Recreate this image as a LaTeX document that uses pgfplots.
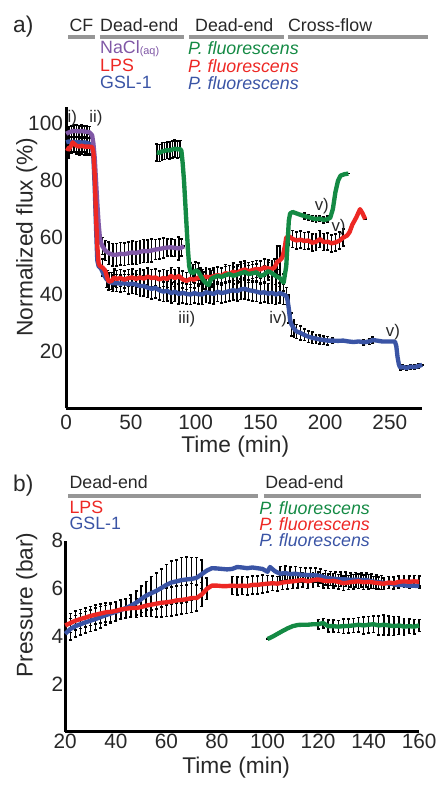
\documentclass[border=0pt]{standalone}
\usepackage{fontspec}
\setmainfont{Liberation Sans}
\usepackage{pgfplots}
\usepackage{pgfplotstable}
\pgfplotsset{compat=1.18}

\definecolor{cpur}{RGB}{128,88,166}
\definecolor{cred}{RGB}{237,40,36}
\definecolor{cblu}{RGB}{58,84,165}
\definecolor{cgrn}{RGB}{20,138,68}
\definecolor{cbar}{RGB}{150,150,150}
\definecolor{txt}{RGB}{40,40,40}

% a) normalized flux: x = time (min), y = flux (%), e = error half-width
\pgfplotstableread{
x y e
0 96.5 2
2 97 2
4 97.3 2
6 97.5 2
8 97.5 2
10 97.3 2
12 97.5 2
14 97.3 2
16 97.2 2
18 97 2
20 96 0
21 93 0
22 88 0
23 80 0
24 72 0
25 65 0
26 60 0
27 58 0
28 57 3
30 55.5 3.5
33 54.5 4
36 54 4
39 54 4
42 54.3 4
45 54.2 4
48 54.5 4
51 54.8 4
54 54.6 4
57 55 4
60 55.3 4
63 55.2 4
66 55.5 4
69 55.8 3.5
72 56 3.5
75 56.3 3.5
78 56.5 3
81 56.6 3
84 56.4 3
87 56.2 4
89 56.5 3
91 57 0
}\naclA

\pgfplotstableread{
x y e
0 93.5 3.5
2 93.8 3.5
4 93.5 3.5
6 93.7 3.5
8 93.5 3.5
10 93.6 3.5
12 93.4 3.5
14 93.5 3.5
16 93.3 3.5
18 93 3.5
20 92 0
21 88 0
22 78 0
23 64 0
24 52 0
25 50 0
27 49 0
29 47 0
31 45.5 3
33 44.5 3
36 44 3
39 44 3
42 43.8 3
45 44 3
48 43.6 3.5
51 43.8 3.5
54 43.5 3.5
57 43 3.5
60 43 3.5
63 42.4 3.5
66 42 3.5
69 42.3 3.5
72 41.5 3.5
75 41 3.5
78 41.3 3.5
81 40.5 3.5
84 41 3.5
87 40.2 3.5
90 40.6 3.5
93 40.2 3.5
96 40 3.5
99 40.5 3.5
102 40.1 3.5
105 40 3.5
108 40.8 3.5
111 40.5 3.5
114 40.2 3.5
117 41 3.5
120 40.5 3.5
123 40.8 3.5
126 41.2 3.5
129 41.5 3.5
132 41.2 3.5
135 41.8 3.5
138 42 3.5
141 41.5 3.5
144 41.3 3.5
147 41 3.5
150 40.6 3.5
153 40.8 3.5
156 40.3 3.5
159 40.6 3.5
162 40 3.5
165 40.5 3.5
168 40 3.5
170 39.5 3
171 38 0
172 35 5
173 31 0
174 29.5 4
176 28 3
178 27 2.5
181 26.5 2.5
184 25.8 2
187 25.2 2
190 24.8 2
193 24.5 1.5
196 24.2 1.5
199 24 1.5
202 23.8 1.5
206 23.8 1
210 23.7 0
214 23.8 0
218 23.5 0
222 23.3 0
226 23.5 0
230 23.2 1
234 23.5 1
237 24 1
240 23.8 0
244 23.5 0
248 23.5 0
252 23.5 0
254 23.4 0
255 22 0
256 18 0
257 15.5 0
258 14.3 0.8
260 14.5 0.8
263 14.2 0.8
266 14.6 0.8
269 14.5 0.8
272 14.8 0.8
275 15.3 0
}\gslA

\pgfplotstableread{
x y e
0 91.5 3
2 91 3
4 92.5 3
5 93.5 0
6 93 3
8 92.3 3
10 92 3
12 92.3 3
14 92 3
16 92 3
18 92 3
20 91.8 0
21 90 0
22 82 0
23 68 0
24 57 0
25 51 0
26 50 0
28 49.5 3
30 48.5 0
31 47 0
32 45.5 3
33 44.5 0
35 44.8 3
37 46 3
39 45.5 3
42 45.8 3
45 45.2 3
48 45.8 3
51 46 3
54 45.5 3
57 46 3
60 45.6 3
63 46.3 3
66 45.8 3
69 46 3
72 45.3 3
75 45.8 3
78 45.5 3
81 46.5 3
84 45.8 3
87 46.5 3
90 45.3 3
93 44.8 3
96 45.5 3
99 45.2 3
102 46 3
105 45.8 3
108 46.3 3
111 46 3
114 46.5 3
117 46.8 3
120 46.5 3
123 47.5 3
126 47.2 3
129 48 3
132 47.6 3
135 48.4 3
138 48.8 3
141 48.2 3
144 48.6 3
147 49 3
150 48.8 3
153 49.5 3
156 49.2 3
159 49 3
161 49.5 3
163 51.5 5.5
165 52 5
167 53 0
169 57 0
170 60 0
172 60.5 3
175 59.5 3
178 59 3
181 59.3 3
184 58.8 3
187 59 3
190 58.2 3
193 58.5 3
196 59.5 3
199 58.4 3
202 58.6 3
205 58 3
208 58.3 3
211 58.9 3
214 60 3
217 60.7 0
219 62 0
221 64.5 0
224 67 0
227 70 0
229 68.5 0
231 66.5 0
}\lpsA

\pgfplotstableread{
x y e
70 90 3
72 89.8 3
74 90.3 3
76 90.5 3
78 90.8 3
80 90.6 3
82 91 3
84 91.3 3
86 91 3
88 91.2 3
89 90.5 0
90 86 0
91 80 0
92 72 0
93 64 0
94 56 0
95 50 0
96 48 3
98 47.5 3
100 48.5 3
102 48 3
104 46.5 3
106 45 3
108 44 3
110 43.3 3
112 45.5 3
114 46 3
117 46.5 3
120 46.2 3
123 46.8 3
126 47.2 3
129 46.6 3
132 47 3
135 47.5 3
138 47.9 3
141 47.2 3
144 47.5 3
147 47.8 3
150 46.5 3
153 47 3
156 48.2 3
159 47.5 3
162 46.5 3
165 45.8 3
168 44.2 3
170 50 0
171 58 0
172 66 0
173 68.5 0
175 69 0
178 68.5 0
181 68 0
184 67.6 1
187 67.2 1
190 66.8 1
193 66.5 1
196 66.7 1
199 66.2 1
202 66.5 1
204 67 0
206 70 0
208 76 0
210 80 0
212 81.8 0
215 82.3 0
218 82.5 0
}\pfA

% b) pressure: x = time (min), y = pressure (bar), e = error half-width
\pgfplotstableread{
x y e
20 4.1 0.4
22 4.3 0.45
24 4.42 0.45
26 4.5 0.45
28 4.58 0.45
30 4.65 0.45
32 4.72 0.45
34 4.8 0.45
36 4.88 0.4
38 4.95 0.4
40 5.02 0.4
42 5.1 0.4
44 5.18 0.4
46 5.28 0.45
48 5.4 0.5
50 5.55 0.55
52 5.7 0.6
54 5.8 0.7
56 5.9 0.75
58 6.02 0.8
60 6.15 0.85
62 6.25 0.9
64 6.3 0.9
66 6.35 0.95
68 6.38 0.95
70 6.4 0.9
72 6.45 0.85
74 6.6 0.6
76 6.75 0
78 6.85 0
80 6.84 0
82 6.82 0
84 6.8 0
86 6.82 0
88 6.9 0
90 6.88 0
92 6.85 0
94 6.88 0
96 6.85 0
98 6.82 0
100 6.7 0
101 6.9 0
103 6.72 0
105 6.62 0.3
107 6.65 0.3
109 6.6 0.3
111 6.62 0.3
113 6.58 0.3
115 6.57 0.3
117 6.56 0.3
119 6.55 0.3
121 6.52 0.3
123 6.45 0.3
125 6.42 0.3
127 6.4 0.3
129 6.38 0.3
131 6.38 0.3
133 6.36 0.3
135 6.37 0.3
137 6.35 0.3
139 6.36 0.3
141 6.3 0.3
143 6.27 0.3
145 6.25 0.3
147 6.22 0
149 6.2 0
151 6.15 0
153 6.15 0
155 6.12 0
157 6.12 0
160 6.1 0
}\gslB

\pgfplotstableread{
x y e
20 4.45 0.4
22 4.55 0.4
24 4.65 0.4
26 4.72 0.4
28 4.78 0.4
30 4.85 0.4
32 4.9 0.4
34 4.95 0.4
36 5.0 0.4
38 5.02 0.4
40 5.06 0.4
42 5.12 0.4
44 5.15 0.4
46 5.18 0.4
48 5.18 0.4
50 5.22 0.4
52 5.28 0.45
54 5.32 0.5
56 5.36 0.55
58 5.4 0.6
60 5.42 0.6
62 5.45 0.6
64 5.5 0.6
66 5.52 0.6
68 5.55 0.6
70 5.6 0.6
72 5.6 0.55
74 5.75 0.5
76 5.98 0.45
78 6.12 0
80 6.12 0
82 6.1 0
84 6.1 0
86 6.12 0.38
88 6.1 0.38
90 6.12 0.38
92 6.1 0.38
94 6.15 0.38
96 6.15 0.38
98 6.18 0.38
100 6.2 0.35
102 6.22 0.3
104 6.2 0.3
106 6.25 0.3
108 6.28 0.3
110 6.3 0.3
112 6.33 0.3
114 6.35 0.3
116 6.3 0.3
118 6.35 0.3
120 6.38 0.3
122 6.33 0.3
124 6.3 0.3
126 6.32 0.3
128 6.28 0.3
130 6.22 0.3
132 6.25 0.3
134 6.28 0.3
136 6.3 0.3
138 6.26 0.3
140 6.28 0.3
142 6.25 0.25
144 6.22 0.25
146 6.2 0.25
148 6.25 0.25
150 6.22 0.25
152 6.28 0.25
154 6.3 0.25
156 6.28 0.25
158 6.3 0.25
160 6.28 0.25
}\lpsB

\pgfplotstableread{
x y e
100 3.88 0
102 3.98 0
104 4.1 0
106 4.22 0
108 4.33 0
110 4.42 0
112 4.47 0
114 4.48 0
116 4.48 0
118 4.5 0
120 4.5 0.2
122 4.55 0.2
124 4.42 0.25
126 4.42 0.25
128 4.4 0.25
130 4.42 0.3
132 4.43 0.3
134 4.45 0.3
136 4.48 0.3
138 4.45 0.35
140 4.48 0.35
142 4.5 0.35
144 4.45 0.4
146 4.48 0.42
148 4.45 0.4
150 4.42 0.4
152 4.45 0.38
154 4.4 0.35
156 4.42 0.3
158 4.4 0.3
160 4.45 0.25
}\pfB

\pgfplotsset{
  panel/.style={
    scale only axis,
    axis lines*=left,
    axis line style={line width=1.4pt, black, -},
    major tick length=0pt,
    tick label style={font=\fontsize{10.5}{12}\selectfont, text=txt},
    label style={font=\fontsize{11.5}{13}\selectfont, text=txt},
    /pgf/number format/assume math mode=true,
    clip=false,
  },
  ebar/.style={
    draw=none, mark=none, forget plot,
    error bars/y dir=both,
    error bars/y explicit,
    error bars/error mark=|,
    error bars/error bar style={draw=black, solid, line width=0.75pt},
    error bars/error mark options={draw=black, solid, line width=0.8pt, mark size=0.75pt},
  },
  curve/.style={line width=2.2pt, mark=none, line join=round},
}

\begin{document}
\begin{tikzpicture}
% overlay coordinates: 1 unit = 1 pixel of the 435x785 frame, y downwards
\begin{scope}[x=0.5pt, y=-0.5pt]
\useasboundingbox (0,0) rectangle (435,785);

% a) headers
\begin{scope}[every node/.style={inner sep=0pt, anchor=base west, text=txt, font=\fontsize{9}{10}\selectfont}]
\node[font=\fontsize{11.5}{13}\selectfont] at (13,33) {a)};
\node at (70,32) {CF};
\node at (101,32) {Dead-end};
\node at (197,32) {Dead-end};
\node at (291,32) {Cross-flow};
\node[text=cpur] at (101,54) {NaCl\raisebox{-0.8pt}{\fontsize{5.5}{6}\selectfont(aq)}};
\node[text=cred] at (101,72) {LPS};
\node[text=cblu] at (101,90) {GSL-1};
\node[text=cgrn] at (190,55) {\itshape P. fluorescens};
\node[text=cred] at (190,73) {\itshape P. fluorescens};
\node[text=cblu] at (190,91) {\itshape P. fluorescens};
\end{scope}
\draw[cbar, line width=2pt] (69,37) -- (96,37) (101,37) -- (186,37) (191,37) -- (287,37) (291,37) -- (433,37);

% b) headers
\begin{scope}[every node/.style={inner sep=0pt, anchor=base west, text=txt, font=\fontsize{9}{10}\selectfont}]
\node[font=\fontsize{11.5}{13}\selectfont] at (13,497) {b)};
\node at (70,494) {Dead-end};
\node at (268,494) {Dead-end};
\node[text=cred] at (70,519) {LPS};
\node[text=cblu] at (70,536) {GSL-1};
\node[text=cgrn] at (262,520) {\itshape P. fluorescens};
\node[text=cred] at (262,537) {\itshape P. fluorescens};
\node[text=cblu] at (262,553) {\itshape P. fluorescens};
\end{scope}
\draw[cbar, line width=2pt] (69,502) -- (261,502) (267,502) -- (426,502);
\end{scope}

\begin{axis}[panel, at={(33.5pt,-206.5pt)}, anchor=south west,
  width=180pt, height=152.5pt,
  xmin=0, xmax=275, ymin=0, ymax=106,
  xtick={0,50,...,250}, ytick={20,40,...,100},
  xlabel={Time (min)}, ylabel={Normalized flux (\%)},
  xlabel style={at={(axis description cs:0.475,-0.128)}, anchor=center},
  ylabel style={at={(axis description cs:-0.111,0.567)}, anchor=center},
  yticklabel style={inner sep=1.5pt},
]
\addplot[ebar] table[x=x, y=y, y error=e] {\naclA};
\addplot[ebar] table[x=x, y=y, y error=e] {\gslA};
\addplot[ebar] table[x=x, y=y, y error=e] {\lpsA};
\addplot[ebar] table[x=x, y=y, y error=e] {\pfA};
\addplot[curve, cblu] table[x=x, y=y] {\gslA};
\addplot[curve, cpur] table[x=x, y=y] {\naclA};
\addplot[curve, cred] table[x=x, y=y] {\lpsA};
\addplot[curve, cgrn] table[x=x, y=y] {\pfA};
\end{axis}

\begin{axis}[panel, at={(33pt,-370pt)}, anchor=south west,
  width=179pt, height=96.5pt,
  xmin=20, xmax=160, ymin=0, ymax=8,
  xtick={20,40,...,160}, ytick={2,4,6,8},
  xlabel={Time (min)}, ylabel={Pressure (bar)},
  xlabel style={at={(axis description cs:0.483,-0.19)}, anchor=center},
  ylabel style={at={(axis description cs:-0.109,0.663)}, anchor=center},
  yticklabel style={inner sep=0.8pt},
  xticklabel style={inner sep=0.8pt},
]
\addplot[ebar] table[x=x, y=y, y error=e] {\gslB};
\addplot[ebar] table[x=x, y=y, y error=e] {\lpsB};
\addplot[ebar] table[x=x, y=y, y error=e] {\pfB};
\addplot[curve, cblu] table[x=x, y=y] {\gslB};
\addplot[curve, cred] table[x=x, y=y] {\lpsB};
\addplot[curve, cgrn] table[x=x, y=y] {\pfB};
\end{axis}

% roman-numeral annotations of panel a)
\begin{scope}[x=0.5pt, y=-0.5pt, every node/.style={inner sep=0pt, anchor=base west, text=txt, font=\fontsize{8.5}{10}\selectfont}]
\node at (68,124) {i)};
\node at (90,124) {ii)};
\node at (180,327) {iii)};
\node at (272,327) {iv)};
\node at (390,340) {v)};
\node at (318,213) {v)};
\node at (335,234) {v)};
\end{scope}
\end{tikzpicture}
\end{document}
